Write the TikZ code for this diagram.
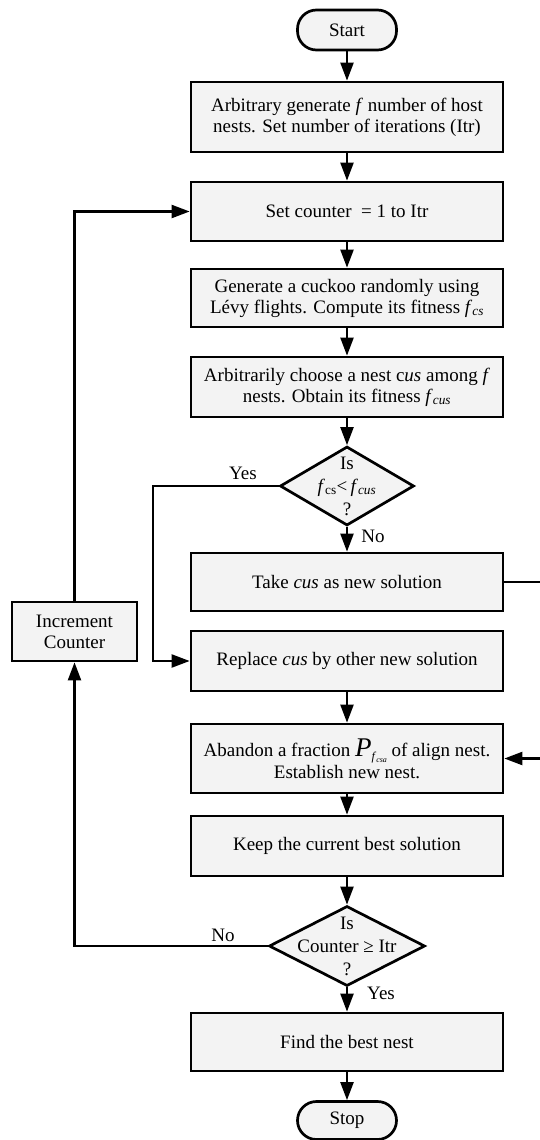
\documentclass[tikz,border=0pt]{standalone}
\usepackage{fontspec}
\setmainfont{Liberation Serif}
\usetikzlibrary{shapes.geometric,arrows.meta}
\definecolor{boxfill}{HTML}{F3F3F3}
\newcommand{\sbi}[2]{\textit{#1}\textsubscript{\textit{#2}}}
\begin{document}
\begin{tikzpicture}[x=1pt,y=-1pt,
  every node/.style={font=\fontsize{19}{21}\selectfont},
  procbox/.style={draw, line width=2.7pt, fill=boxfill, minimum width=312pt, inner sep=0pt, align=center},
  termbox/.style={draw, line width=2.7pt, fill=boxfill, rounded corners=19pt, minimum width=99pt, minimum height=40pt, inner sep=0pt},
  decision/.style={draw, line width=2.7pt, fill=boxfill, diamond, inner sep=0pt},
  dtext/.style={align=center, inner sep=0pt, font=\fontsize{19}{23}\selectfont},
  conn/.style={line width=2.2pt, -{Triangle[length=18pt,width=13pt]}},
  plain/.style={line width=2.2pt}
]
\useasboundingbox (0,0) rectangle (539,1140);

\node[termbox] (start) at (347,30) {Start};
\node[procbox, minimum height=70pt] (b1) at (347,117) {Arbitrary generate \textit{f} number of host\\nests. Set number of iterations (Itr)};
\node[procbox, minimum height=59pt] (b2) at (347,211.5) {Set counter \ = 1 to Itr};
\node[procbox, minimum height=58pt] (b3) at (347,298) {Generate a cuckoo randomly using\\L\'evy flights. Compute its fitness \sbi{f}{cs}};
\node[procbox, minimum height=60pt] (b4) at (347,387) {Arbitrarily choose a nest c\textit{us} among \textit{f}\\nests. Obtain its fitness \sbi{f}{cus}};
\node[decision, minimum width=134pt, minimum height=79pt] (d1) at (347,486) {};
\node[dtext] (d1t) at (d1.center) {Is\\\textit{f}\textsubscript{cs}<\,\sbi{f}{cus}\\?};
\node[procbox, minimum height=58pt] (take) at (347,582) {Take \textit{cus} as new solution};
\node[procbox, minimum height=60pt] (rep) at (347,661) {Replace \textit{cus} by other new solution};
\node[procbox, minimum height=69pt] (aban) at (347,758.5) {Abandon a fraction {\fontsize{27}{27}\selectfont\textit{P}}\raisebox{-4pt}{\fontsize{12}{12}\selectfont\textit{f}\raisebox{-2pt}{\fontsize{8}{8}\selectfont\textit{csa}}} of align nest.\\[1pt]Establish new nest.};
\node[procbox, minimum height=60pt] (keep) at (347,846) {Keep the current best solution};
\node[decision, minimum width=156pt, minimum height=80pt] (d2) at (347,946) {};
\node[dtext] (d2t) at (d2.center) {Is\\Counter ≥ Itr\\?};
\node[procbox, minimum height=58pt] (find) at (347,1042) {Find the best nest};
\node[termbox, minimum height=38pt] (stop) at (347,1120.5) {Stop};
\node[procbox, minimum width=125pt, minimum height=59pt] (incr) at (74.5,631.5) {Increment\\Counter};

\coordinate (yturn) at (153,486);
\coordinate (rturn) at (541,582);

\draw[conn] (start.south) -- (b1.north);
\draw[conn] (b1.south) -- (b2.north);
\draw[conn] (b2.south) -- (b3.north);
\draw[conn] (b3.south) -- (b4.north);
\draw[conn] (b4.south) -- (d1.north);
\draw[conn] (d1.south) -- (take.north);
\draw[conn] (d1.west) -- (yturn) |- (rep.west);
\draw[conn] (take.east) -- (rturn) |- (aban.east);
\draw[conn] (rep.south) -- (aban.north);
\draw[conn] (aban.south) -- (keep.north);
\draw[conn] (keep.south) -- (d2.north);
\draw[conn] (d2.south) -- (find.north);
\draw[conn] (find.south) -- (stop.north);
\draw[conn] (d2.west) -| (incr.south);
\draw[conn] (incr.north) |- (b2.west);

\node (yes1) at (243,473) {Yes};
\node (no1) at (373,536) {No};
\node (no2) at (223,935) {No};
\node (yes2) at (381,993) {Yes};
\end{tikzpicture}
\end{document}
